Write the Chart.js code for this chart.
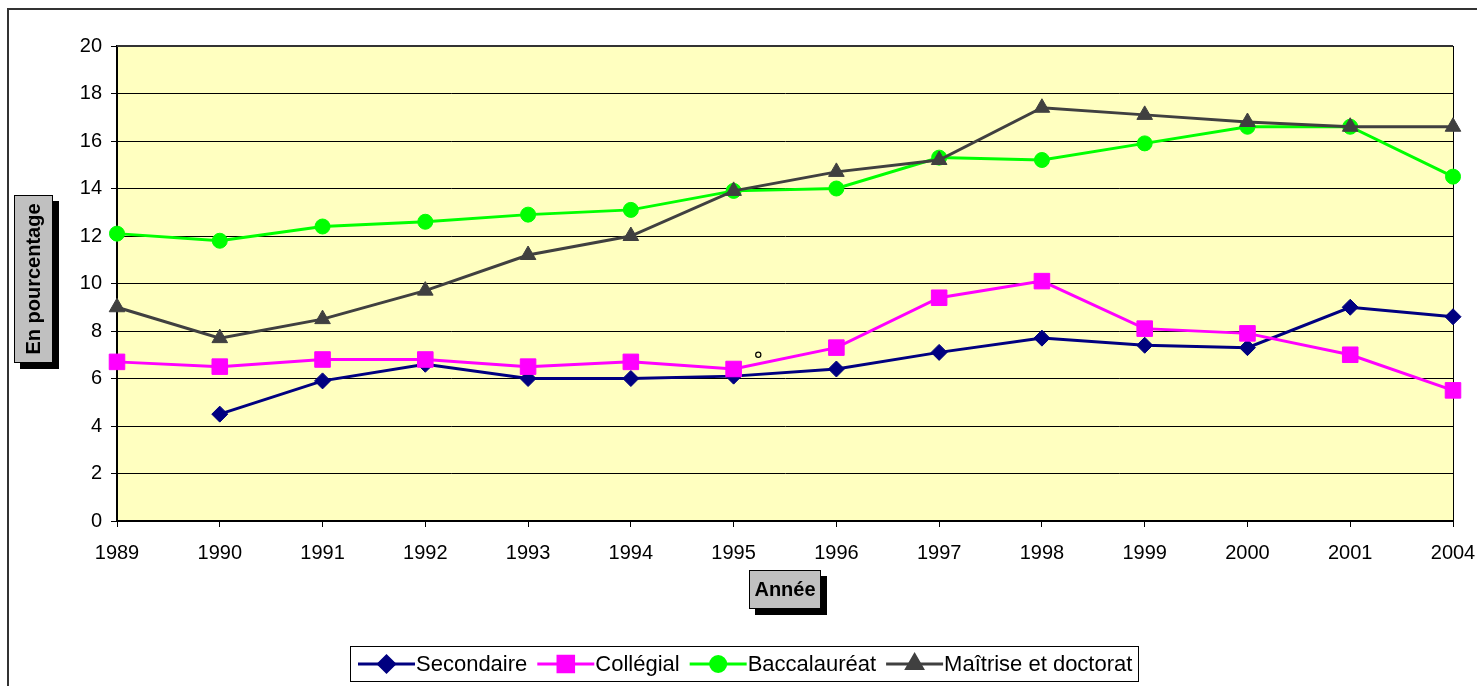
<!DOCTYPE html>
<html>
<head>
<meta charset="utf-8">
<script src="https://cdn.jsdelivr.net/npm/chart.js@4.4.0/dist/chart.umd.min.js"></script>
<style>
  html, body { margin: 0; padding: 0; background: #fff; }
  #wrap { position: relative; width: 1477px; height: 686px; }
</style>
</head>
<body>
<div id="wrap"><canvas id="line-chart" width="1477" height="686"></canvas></div>
<script>
// data
const years = ['1989', '1990', '1991', '1992', '1993', '1994', '1995', '1996', '1997', '1998', '1999', '2000', '2001', '2004'];
const secondaire = [null, 4.5, 5.9, 6.6, 6.0, 6.0, 6.1, 6.4, 7.1, 7.7, 7.4, 7.3, 9.0, 8.6];
const collegial = [6.7, 6.5, 6.8, 6.8, 6.5, 6.7, 6.4, 7.3, 9.4, 10.1, 8.1, 7.9, 7.0, 5.5];
const baccalaureat = [12.1, 11.8, 12.4, 12.6, 12.9, 13.1, 13.9, 14.0, 15.3, 15.2, 15.9, 16.6, 16.6, 14.5];
const maitrise = [9.0, 7.7, 8.5, 9.7, 11.2, 12.0, 13.9, 14.7, 15.2, 17.4, 17.1, 16.8, 16.6, 16.6];
const seriesNames = ['Secondaire', 'Collégial', 'Baccalauréat', 'Maîtrise et doctorat'];
const yTicks = [0, 2, 4, 6, 8, 10, 12, 14, 16, 18, 20];
const yTitle = 'En pourcentage';
const xTitle = 'Année';
// stray degree mark in the original, placed in data units
const degreeMark = { x: 6.24, y: 7.0 };

const FONT = '"Liberation Sans", Arial, sans-serif';

function makeSet(label, data, color, style, radius, order) {
    return {
        label: label,
        data: data,
        borderColor: color,
        backgroundColor: color,
        pointBackgroundColor: color,
        pointBorderColor: color,
        borderWidth: 3,
        pointStyle: style,
        pointRadius: radius,
        pointHoverRadius: radius,
        pointBorderWidth: 1,
        tension: 0,
        spanGaps: false,
        order: order,
    };
}

function drawBox(ctx, text, cx, cy, w, h, rotate) {
    ctx.save();
    ctx.translate(cx, cy);
    if (rotate) ctx.rotate(-Math.PI / 2);
    // shadow
    ctx.fillStyle = '#000';
    if (rotate) ctx.fillRect(-w / 2 - 6, -h / 2 + 6, w, h);
    else ctx.fillRect(-w / 2 + 6, -h / 2 + 6, w, h);
    ctx.fillStyle = '#c0c0c0';
    ctx.fillRect(-w / 2, -h / 2, w, h);
    ctx.strokeStyle = '#000';
    ctx.lineWidth = 1;
    ctx.strokeRect(-w / 2 + 0.5, -h / 2 + 0.5, w - 1, h - 1);
    ctx.fillStyle = '#000';
    ctx.font = 'bold 20px ' + FONT;
    ctx.textAlign = 'center';
    ctx.textBaseline = 'middle';
    ctx.fillText(text, 0, 1);
    ctx.restore();
}

const decorPlugin = {
    id: 'decor',
    beforeDraw(chart) {
        const ctx = chart.ctx;
        const a = chart.chartArea;
        ctx.save();
        ctx.fillStyle = '#fff';
        ctx.fillRect(0, 0, chart.width, chart.height);
        // outer frame (runs off the right and bottom edges)
        ctx.strokeStyle = '#333';
        ctx.lineWidth = 2;
        ctx.strokeRect(8, 9, chart.width + 20, chart.height + 20);
        // plot background
        ctx.fillStyle = '#ffffc0';
        ctx.fillRect(a.left, a.top, a.right - a.left, a.bottom - a.top);
        ctx.restore();
    },
    beforeDatasetsDraw(chart) {
        const ctx = chart.ctx;
        const a = chart.chartArea;
        ctx.save();
        ctx.strokeStyle = '#333';
        ctx.lineWidth = 2;
        ctx.beginPath();
        ctx.moveTo(a.left, a.top);
        ctx.lineTo(a.right, a.top);
        ctx.stroke();
        ctx.strokeStyle = '#000';
        ctx.lineWidth = 1;
        ctx.beginPath();
        ctx.moveTo(a.right + 0.5, a.top);
        ctx.lineTo(a.right + 0.5, a.bottom);
        ctx.stroke();
        ctx.restore();
    },
    afterDraw(chart) {
        const ctx = chart.ctx;
        const xs = chart.scales.x;
        const ys = chart.scales.y;

        // axis titles
        drawBox(ctx, yTitle, 33.5, 279, 168, 39, true);
        drawBox(ctx, xTitle, 785, 589.5, 72, 39, false);

        // degree mark
        ctx.save();
        ctx.strokeStyle = '#000';
        ctx.lineWidth = 1.2;
        ctx.beginPath();
        ctx.arc(xs.getPixelForValue(degreeMark.x), ys.getPixelForValue(degreeMark.y), 2.6, 0, Math.PI * 2);
        ctx.stroke();
        ctx.restore();

        // legend
        ctx.save();
        ctx.fillStyle = '#fff';
        ctx.fillRect(350, 646, 788, 35);
        ctx.strokeStyle = '#000';
        ctx.lineWidth = 1;
        ctx.strokeRect(350.5, 646.5, 788, 35);
        ctx.font = '22px ' + FONT;
        ctx.textBaseline = 'middle';
        ctx.textAlign = 'left';
        let x = 358;
        const y = 664;
        chart.data.datasets.forEach((ds) => {
            ctx.strokeStyle = ds.borderColor;
            ctx.lineWidth = 3;
            ctx.beginPath();
            ctx.moveTo(x, y);
            ctx.lineTo(x + 57, y);
            ctx.stroke();
            Chart.helpers.drawPoint(ctx, {
                pointStyle: ds.pointStyle,
                radius: ds.pointRadius,
                borderWidth: 1,
                rotation: 0,
            }, x + 28.5, y);
            ctx.fillStyle = ds.backgroundColor;
            ctx.fill();
            ctx.fillStyle = '#000';
            ctx.fillText(ds.label, x + 58, y + 1);
            x += 58 + ctx.measureText(ds.label).width + 10;
        });
        ctx.restore();
    },
};

function createLineChart() {
    const ctx = document.getElementById('line-chart').getContext('2d');

    const chartData = {
        labels: years,
        datasets: [
            makeSet(seriesNames[0], secondaire, '#000080', 'rectRot', 8, 4),
            makeSet(seriesNames[1], collegial, '#ff00ff', 'rect', 11, 3),
            makeSet(seriesNames[2], baccalaureat, '#00ff00', 'circle', 7.5, 2),
            makeSet(seriesNames[3], maitrise, '#404040', 'triangle', 9, 1),
        ],
    };

    const chartOptions = {
        responsive: false,
        animation: false,
        layout: { padding: { left: 0, top: 46, right: 24, bottom: 0 } },
        scales: {
            x: {
                type: 'category',
                offset: false,
                afterFit: (scale) => {
                    scale.height = 165;
                    scale.paddingLeft = 0;
                    scale.paddingRight = 0;
                },
                grid: {
                    display: true,
                    drawOnChartArea: false,
                    drawTicks: true,
                    tickLength: 6,
                    color: '#000',
                    lineWidth: 1,
                },
                border: { display: true, color: '#000', width: 2 },
                ticks: {
                    color: '#000',
                    font: { family: FONT, size: 20 },
                    padding: 14,
                    maxRotation: 0,
                    autoSkip: false,
                },
            },
            y: {
                min: 0,
                max: 20,
                afterFit: (scale) => { scale.width = 117; },
                afterBuildTicks: (scale) => { scale.ticks = yTicks.map((v) => ({ value: v })); },
                grid: {
                    display: true,
                    drawTicks: true,
                    tickLength: 6,
                    color: '#000',
                    lineWidth: 1,
                },
                border: { display: true, color: '#000', width: 2 },
                ticks: {
                    color: '#000',
                    font: { family: FONT, size: 20 },
                    padding: 9,
                },
            },
        },
        plugins: {
            legend: { display: false },
            tooltip: { enabled: false },
            title: { display: false },
        },
    };

    window.myLineChart = new Chart(ctx, {
        type: 'line',
        data: chartData,
        options: chartOptions,
        plugins: [decorPlugin],
    });
}

createLineChart();
</script>
</body>
</html>
